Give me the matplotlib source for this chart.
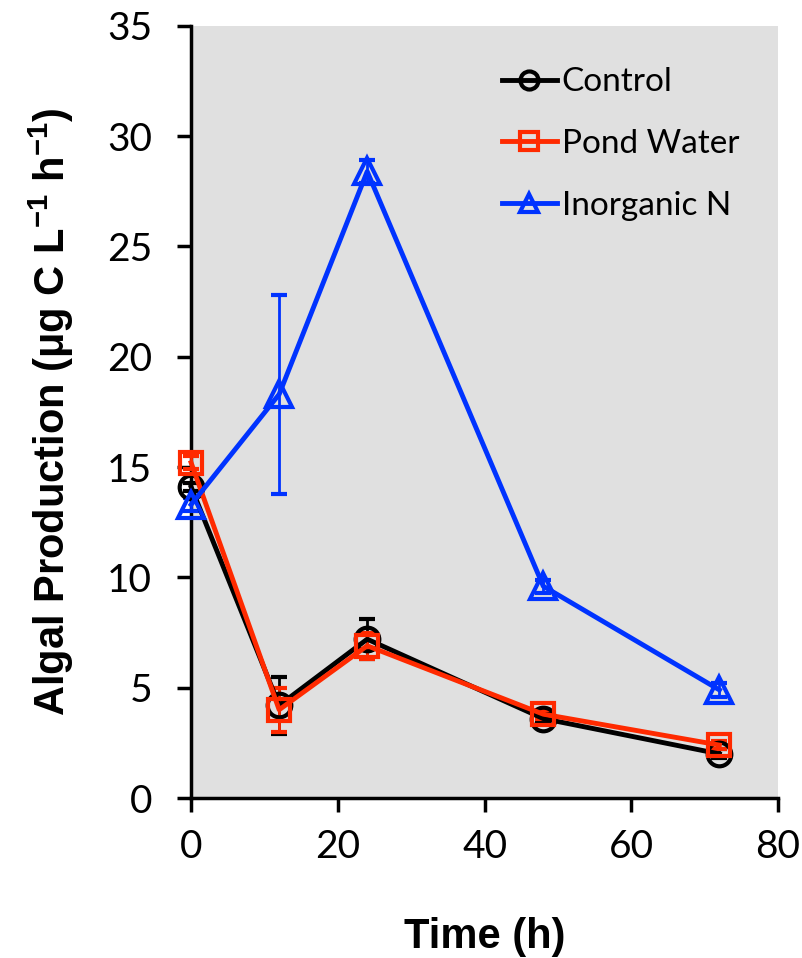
import matplotlib
matplotlib.use("Agg")
import matplotlib.pyplot as plt
from matplotlib.lines import Line2D

time_h = [0, 12, 24, 48, 72]

control = [14.1, 4.2, 7.2, 3.6, 2.0]
control_err = [0.2, 1.3, 0.9, 0.2, 0.2]

pond = [15.2, 4.0, 6.9, 3.8, 2.4]
pond_err = [0.3, 1.0, 0.6, 0.2, 0.2]

inorg = [13.3, 18.3, 28.4, 9.6, 4.9]
inorg_err = [0.3, 4.5, 0.5, 0.3, 0.3]

plt.rcParams['mathtext.fontset'] = 'custom'
plt.rcParams['mathtext.rm'] = 'Liberation Sans:bold'
plt.rcParams['mathtext.default'] = 'regular'

fig = plt.figure(figsize=(8.03, 9.58), dpi=100)
ax = fig.add_axes([0.238, 0.167, 0.731, 0.806])
ax.set_facecolor('#e0e0e0')

series = [
    (control, control_err, 'black', 'o', 'Control', 17),
    (pond, pond_err, '#ff2a00', 's', 'Pond Water', 16),
    (inorg, inorg_err, '#0033ff', '^', 'Inorganic N', 19),
]
handles = []
for vals, err, col, mk, lab, ms in series:
    ax.errorbar(time_h, vals, yerr=err, color=col, ecolor=col, elinewidth=2,
                capsize=6, capthick=2, lw=3.5, marker=mk, ms=ms, mfc='none',
                mec=col, mew=3, clip_on=False)
    handles.append(Line2D([], [], color=col, lw=3.5, marker=mk, ms=13,
                          mfc='none', mec=col, mew=3, label=lab))

ax.set_xlim(0, 80)
ax.set_ylim(0, 35)
ax.set_xticks([0, 20, 40, 60, 80])
ax.set_yticks(range(0, 36, 5))
for s in ['top', 'right']:
    ax.spines[s].set_visible(False)
for s in ['left', 'bottom']:
    ax.spines[s].set_linewidth(2.5)
    ax.spines[s].set_zorder(1)
ax.tick_params(direction='out', length=10, width=2.5, labelsize=28)
ax.tick_params(axis='y', pad=18)
ax.tick_params(axis='x', pad=12)
for t in ax.get_xticklabels() + ax.get_yticklabels():
    t.set_family(['Lato', 'DejaVu Sans'])

ax.set_xlabel('Time (h)', fontsize=30, fontweight='bold',
              family='Liberation Sans', labelpad=38)
ax.set_ylabel('Algal Production (\u03bcg C L$^{-1}$ h$^{-1}$)', fontsize=30,
              fontweight='bold', family='Liberation Sans', labelpad=22)

ax.legend(handles=handles, loc='upper right', frameon=False,
          handlelength=1.65, handletextpad=0.15, labelspacing=0.95,
          bbox_to_anchor=(0.985, 0.985), prop={'family': 'Lato', 'size': 24})

fig.savefig('out.png', dpi=100)
